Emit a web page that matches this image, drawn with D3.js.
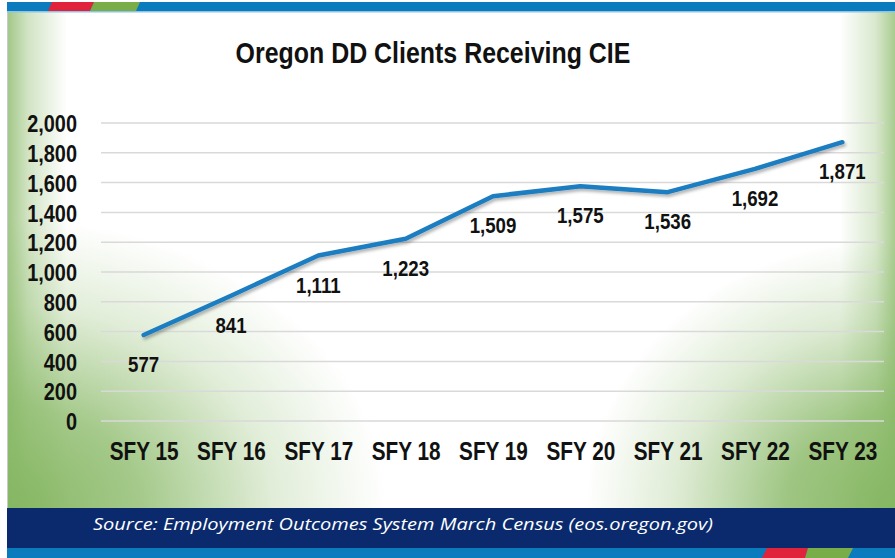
<!DOCTYPE html>
<html>
<head>
<meta charset="utf-8">
<script src="https://cdn.jsdelivr.net/npm/d3@7"></script>
<style>
  html, body { margin: 0; padding: 0; background: #ffffff; }
  svg { display: block; }
  .narrow { font-family: "Liberation Sans Narrow", "Arial Narrow", "Liberation Sans", Arial, sans-serif; font-weight: bold; }
</style>
</head>
<body>
<svg id="chart" width="895" height="558"></svg>
<script>
const categories = ["SFY 15", "SFY 16", "SFY 17", "SFY 18", "SFY 19", "SFY 20", "SFY 21", "SFY 22", "SFY 23"];
const clients = [577, 841, 1111, 1223, 1509, 1575, 1536, 1692, 1871];
const yTicks = [0, 200, 400, 600, 800, 1000, 1200, 1400, 1600, 1800, 2000];
const titleText = "Oregon DD Clients Receiving CIE";
const sourceText = "Source: Employment Outcomes System March Census (eos.oregon.gov)";

const W = 895, H = 558;
const NARROW = 0.83; // horizontal condensing to mimic a narrow bold face
const GREEN = "#86b763";
const svg = d3.select("#chart");
const defs = svg.append("defs");

function linGrad(id, x1, x2, stops) {
  const g = defs.append("linearGradient").attr("id", id)
    .attr("x1", x1).attr("x2", x2).attr("y1", 0).attr("y2", 0);
  stops.forEach(s => g.append("stop").attr("offset", s[0]).attr("stop-color", GREEN).attr("stop-opacity", s[1]));
}
function radGrad(id, cx, cy, rx, ry, stops) {
  const g = defs.append("radialGradient").attr("id", id).attr("gradientUnits", "userSpaceOnUse")
    .attr("cx", 0).attr("cy", 0).attr("r", 1)
    .attr("gradientTransform", `translate(${cx},${cy}) scale(${rx},${ry})`);
  stops.forEach(s => g.append("stop").attr("offset", s[0]).attr("stop-color", GREEN).attr("stop-opacity", s[1]));
}
linGrad("leftG", 0, 1, [[0, 0.78], [0.35, 0.38], [1, 0]]);
linGrad("rightG", 1, 0, [[0, 0.72], [0.35, 0.32], [1, 0]]);
radGrad("blG", 7, 508, 380, 290, [[0, 1], [0.35, 0.75], [0.7, 0.25], [1, 0]]);
radGrad("brG", 895, 508, 310, 270, [[0, 1], [0.35, 0.8], [0.7, 0.28], [1, 0]]);

const shadow = defs.append("filter").attr("id", "shadow")
  .attr("x", "-5%").attr("y", "-20%").attr("width", "110%").attr("height", "140%");
shadow.append("feDropShadow").attr("dx", 1.5).attr("dy", 2.5).attr("stdDeviation", 1.5)
  .attr("flood-color", "#000").attr("flood-opacity", 0.3);

// panel
const panel = svg.append("g");
panel.append("rect").attr("x", 7).attr("y", 11).attr("width", W - 7).attr("height", 497).attr("fill", "#ffffff");
panel.append("rect").attr("x", 7).attr("y", 11).attr("width", 60).attr("height", 497).attr("fill", "url(#leftG)");
panel.append("rect").attr("x", W - 55).attr("y", 11).attr("width", 55).attr("height", 497).attr("fill", "url(#rightG)");
panel.append("rect").attr("x", 7).attr("y", 11).attr("width", W - 7).attr("height", 497).attr("fill", "url(#blG)");
panel.append("rect").attr("x", 7).attr("y", 11).attr("width", W - 7).attr("height", 497).attr("fill", "url(#brG)");
svg.append("line").attr("x1", 7.5).attr("x2", 7.5).attr("y1", 11).attr("y2", 508)
  .attr("stroke", "#c9c9c9").attr("stroke-width", 1);

// top bar
svg.append("rect").attr("x", 7).attr("y", 2).attr("width", W - 7).attr("height", 9).attr("fill", "#0a7bbd");
svg.append("rect").attr("x", 7).attr("y", 11).attr("width", W - 7).attr("height", 1.5).attr("fill", "#8cc3e6");
svg.append("polygon").attr("points", "52,2 94,2 90,11 48,11").attr("fill", "#e0233a");
svg.append("polygon").attr("points", "94,2 140,2 136,11 90,11").attr("fill", "#79ad48");

// bottom bars
svg.append("rect").attr("x", 7).attr("y", 508).attr("width", W - 7).attr("height", 40).attr("fill", "#0b2a6e");
svg.append("rect").attr("x", 7).attr("y", 548).attr("width", W - 7).attr("height", 10).attr("fill", "#0a7bbd");
svg.append("polygon").attr("points", "767,548 808,548 805,558 762,558").attr("fill", "#e0233a");
svg.append("polygon").attr("points", "808,548 853,548 848,558 805,558").attr("fill", "#79ad48");

// scales
const x = d3.scalePoint().domain(categories).range([100, 886]).padding(0.5);
const y = d3.scaleLinear().domain([0, 2000]).range([421, 123]);

// gridlines
svg.append("g").selectAll("line").data(yTicks).join("line")
  .attr("x1", 101).attr("x2", 884)
  .attr("y1", d => y(d)).attr("y2", d => y(d))
  .attr("stroke", "#d9d9d9").attr("stroke-width", 1.5);

// y axis labels
const yAxis = d3.axisLeft(y).tickValues(yTicks).tickFormat(d3.format(",")).tickSize(0).tickPadding(0);
const gy = svg.append("g").attr("transform", "translate(77,0)").call(yAxis);
gy.select(".domain").remove();
gy.selectAll("text").attr("class", "narrow").attr("font-size", 24).attr("fill", "#111")
  .attr("x", 0).attr("dy", "0.36em").attr("transform", `scale(${NARROW},1)`);

// x axis labels
const xAxis = d3.axisBottom(x).tickSize(0).tickPadding(0);
const gx = svg.append("g").attr("transform", "translate(0,451)").call(xAxis);
gx.select(".domain").remove();
gx.selectAll("text").attr("class", "narrow").attr("font-size", 25).attr("fill", "#111")
  .attr("y", 0).attr("dy", "0.36em").attr("transform", `scale(${NARROW},1)`);

// line
const line = d3.line().x((d, i) => x(categories[i])).y(d => y(d));
svg.append("path").datum(clients).attr("d", line)
  .attr("fill", "none").attr("stroke", "#1a7dc0").attr("stroke-width", 4.5)
  .attr("stroke-linecap", "round").attr("stroke-linejoin", "round")
  .attr("filter", "url(#shadow)");

// data labels
svg.append("g").selectAll("text").data(clients).join("text")
  .attr("class", "narrow").attr("font-size", 22.5).attr("fill", "#111")
  .attr("text-anchor", "middle")
  .attr("transform", (d, i) => `translate(${x(categories[i])},${y(d) + 29}) scale(${NARROW},1)`)
  .attr("dy", "0.36em")
  .text(d => d3.format(",")(d));

// title
svg.append("text").attr("class", "narrow").attr("font-size", 29).attr("fill", "#111")
  .attr("text-anchor", "middle")
  .attr("transform", `translate(433,63) scale(0.86,1)`)
  .text(titleText);

// source
svg.append("text").attr("x", 93).attr("y", 530)
  .attr("font-family", "'Open Sans', 'Noto Sans', sans-serif").attr("font-style", "italic")
  .attr("font-size", 17).attr("fill", "#ffffff")
  .attr("textLength", 620).attr("lengthAdjust", "spacingAndGlyphs")
  .text(sourceText);
</script>
</body>
</html>
